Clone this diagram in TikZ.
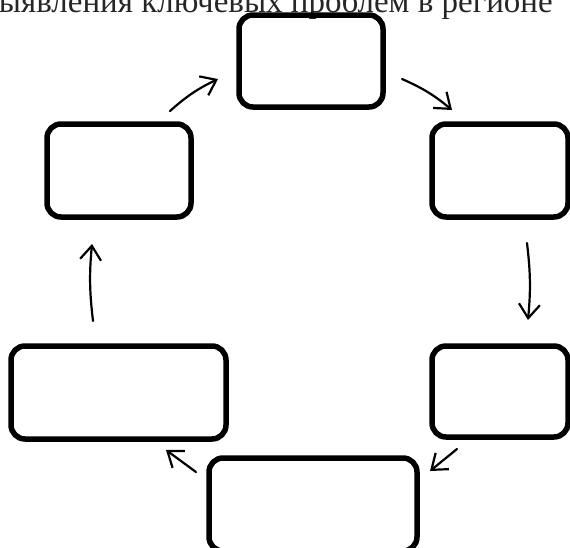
\documentclass[tikz,border=0pt]{standalone}
\usepackage{fontspec}
\setmainfont{Liberation Serif}
\usetikzlibrary{arrows.meta}
\tikzset{
  box/.style={draw=black, line width=5.5pt, rounded corners=14pt, inner sep=0pt},
  flow/.style={line width=2.2pt, line cap=round, -{Straight Barb[length=14pt,width=21pt,line width=2.2pt]}},
}
\begin{document}
\begin{tikzpicture}[x=1pt,y=-1pt]
\useasboundingbox (0,0) rectangle (570,547);
\clip (0,0) rectangle (570,547);
\node[anchor=base east, font=\fontsize{33}{38}\selectfont, text=black!85, inner sep=0pt] (title) at (553,12.5) {выявления ключевых проблем в регионе};
\node[box, minimum width=144pt, minimum height=92pt] (top) at (311,61) {};
\node[box, minimum width=136pt, minimum height=93pt] (ur) at (500,170.5) {};
\node[box, minimum width=144pt, minimum height=93pt] (ul) at (119,170.5) {};
\node[box, minimum width=215pt, minimum height=93pt] (ll) at (118.5,392.5) {};
\node[box, minimum width=136pt, minimum height=91pt] (lr) at (500,391.5) {};
\node[box, minimum width=208pt, minimum height=93pt] (bot) at (313,504.5) {};
\coordinate (a1s) at (170,111); \coordinate (a1e) at (218,79);
\coordinate (a2s) at (402,79);  \coordinate (a2e) at (452,110);
\coordinate (a3s) at (527,243); \coordinate (a3e) at (528,320);
\coordinate (a4s) at (457,449); \coordinate (a4e) at (430,471);
\coordinate (a5s) at (196,472); \coordinate (a5e) at (166,450);
\coordinate (a6s) at (93,321);  \coordinate (a6e) at (92,244);
\draw[flow] (a1s) to[bend left=8] (a1e);
\draw[flow] (a2s) to[bend left=8] (a2e);
\draw[flow] (a3s) to[bend left=6] (a3e);
\draw[flow] (a4s) -- (a4e);
\draw[flow] (a5s) -- (a5e);
\draw[flow] (a6s) to[bend left=6] (a6e);
\end{tikzpicture}
\end{document}
